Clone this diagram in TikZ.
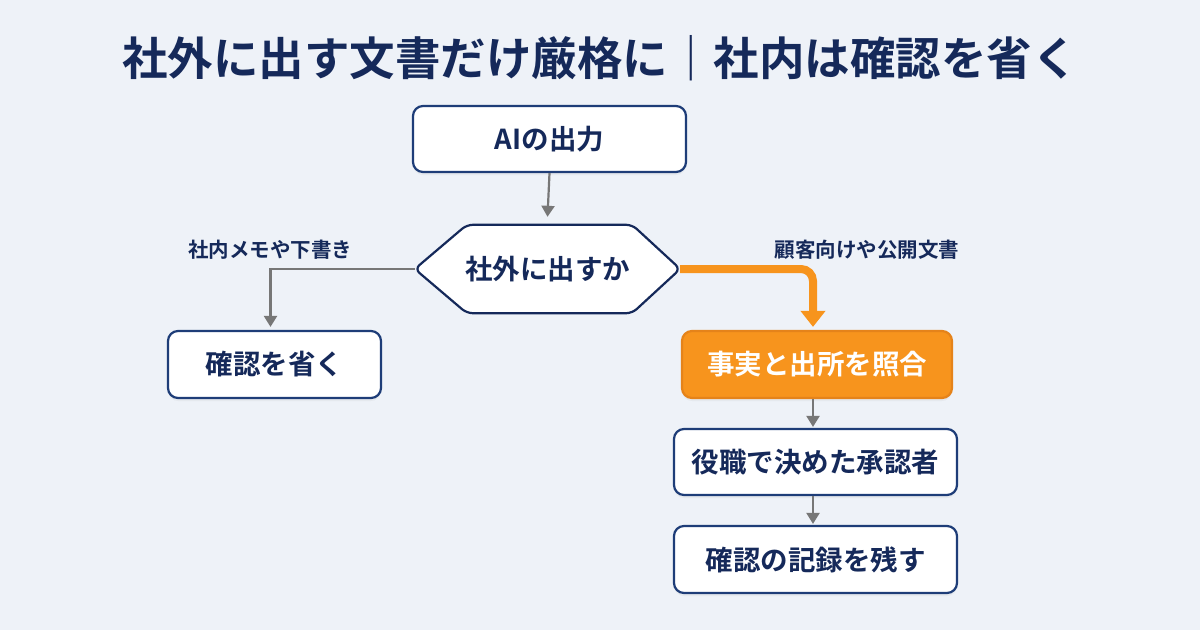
\documentclass[tikz,border=0pt]{standalone}
\usepackage{fontspec}
\setmainfont{Noto Sans CJK JP}[BoldFont={Noto Sans CJK JP Bold}]
\usetikzlibrary{arrows.meta,shadows,calc}
\definecolor{bg}{HTML}{EEF2F8}
\definecolor{navy}{HTML}{15295A}
\definecolor{boxline}{HTML}{1E3D78}
\definecolor{orng}{HTML}{F7941D}
\definecolor{orngline}{HTML}{E5831A}
\definecolor{arrgray}{HTML}{777777}
\tikzset{
  nodefont/.style={font=\fontsize{27.5}{32}\selectfont\bfseries},
  box/.style={draw=boxline, line width=2.2pt, fill=white, rounded corners=10pt,
    text=navy, nodefont, inner sep=0pt,
    drop shadow={opacity=0.08, shadow xshift=0pt, shadow yshift=-3pt}},
  hotbox/.style={box, draw=orngline, fill=orng, text=white},
  lbl/.style={text=navy, font=\fontsize{20.5}{24}\selectfont\bfseries, inner sep=0pt},
  flow/.style={draw=arrgray, line width=2.2pt, -{Triangle[width=13pt,length=11pt]}},
  hotflow/.style={draw=orng, line width=8pt, rounded corners=12pt, -{Triangle[width=24pt,length=16pt]}},
}
\begin{document}
\begin{tikzpicture}[x=1pt,y=-1pt]
\fill[bg] (0,0) rectangle (1200,630);
\useasboundingbox (0,0) rectangle (1200,630);
\node[text=navy, font=\fontsize{45.5}{50}\selectfont\bfseries, inner sep=0pt] (title) at (600,58) {社外に出す文書だけ厳格に｜社内は確認を省く};
\node[box, minimum width=273pt, minimum height=66pt] (ai) at (549.5,139) {AIの出力};
\node[inner sep=0pt, minimum width=265pt, minimum height=88pt] (hex) at (547.5,269) {};
\draw[draw=navy, line width=2.2pt, fill=white, rounded corners=6pt]
  (hex.west) -- ($(hex.north west)+(52,0)$) -- ($(hex.north east)+(-48,0)$) -- (hex.east)
  -- ($(hex.south east)+(-48,0)$) -- ($(hex.south west)+(52,0)$) -- cycle;
\node[text=navy, nodefont, inner sep=0pt] (hextext) at (hex.center) {社外に出すか};
\node[box, minimum width=213pt, minimum height=67pt] (skip) at (274.5,364.5) {確認を省く};
\node[hotbox, minimum width=270pt, minimum height=67pt] (check) at (817,364.5) {事実と出所を照合};
\node[box, minimum width=283pt, minimum height=66pt] (role) at (815.5,462) {役職で決めた承認者};
\node[box, minimum width=283pt, minimum height=67pt] (rec) at (815.5,559.5) {確認の記録を残す};
\node[lbl] (lblin) at (270,250) {社内メモや下書き};
\node[lbl] (lblout) at (867,250) {顧客向けや公開文書};
\draw[flow] (ai.south) -- ($(hex.north)+(0,-8)$);
\draw[flow] (hex.west) -| ($(skip.north)+(-4,-3)$);
\draw[hotflow] (hex.east) -| ($(check.north)+(-4,-3)$);
\draw[flow] ($(check.south)+(-4,0)$) -- ($(role.north)+(-2.5,-1)$);
\draw[flow] ($(role.south)+(-2.5,0)$) -- ($(rec.north)+(-2.5,-1)$);
\end{tikzpicture}
\end{document}
